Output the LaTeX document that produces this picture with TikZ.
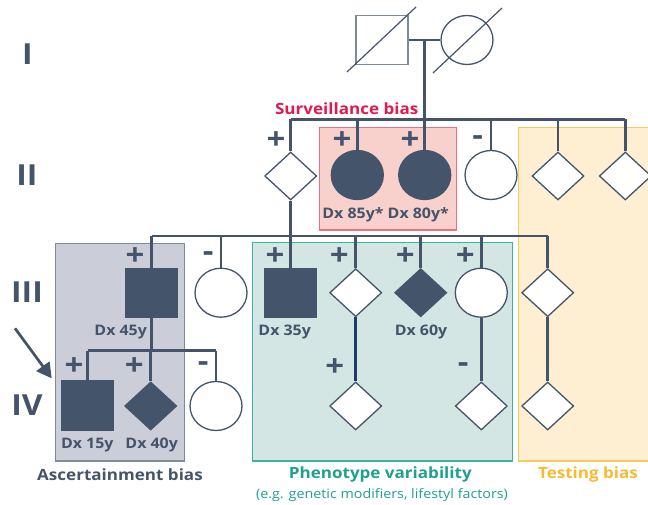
\documentclass[tikz,border=0pt]{standalone}
\usepackage{fontspec}
\setmainfont{Open Sans}[FakeStretch=1.1]
\usetikzlibrary{shapes.geometric,arrows.meta}
\definecolor{ink}{HTML}{44546A}
\definecolor{inkl}{HTML}{7F8A99}
\definecolor{pinkf}{HTML}{F8D0CC}
\definecolor{pinkb}{HTML}{EE6F84}
\definecolor{survc}{HTML}{E1194E}
\definecolor{yelf}{HTML}{FEEFD3}
\definecolor{yelb}{HTML}{FBCB5A}
\definecolor{yelt}{HTML}{F9BA33}
\definecolor{tealf}{HTML}{D3E6E4}
\definecolor{tealb}{HTML}{3DB1A4}
\definecolor{tealt}{HTML}{1FA08F}
\definecolor{grayf}{HTML}{CBCED8}
\definecolor{grayb}{HTML}{7F8A9A}
\definecolor{navy}{HTML}{1F3A6E}
\tikzset{
  x=1pt, y=-1pt,
  male/.style={rectangle, draw=ink, line width=1.3pt, minimum width=52pt, minimum height=49pt, inner sep=0pt, fill=white},
  female/.style={ellipse, draw=ink, line width=1.3pt, minimum width=52pt, minimum height=49pt, inner sep=0pt, fill=white},
  unk/.style={diamond, draw=ink, line width=1.3pt, minimum width=52pt, minimum height=48pt, inner sep=0pt, fill=white},
  aff/.style={fill=ink},
  link/.style={draw=ink, line width=2.6pt},
  pm/.style={text=ink, font=\fontsize{30}{30}\selectfont\bfseries, inner sep=0pt},
  dx/.style={text=ink, font=\fontsize{14.5}{14.5}\selectfont\bfseries, inner sep=0pt},
  gen/.style={text=ink, font=\fontsize{29}{29}\selectfont\bfseries, inner sep=0pt},
  biaslbl/.style={font=\fontsize{15.5}{15.5}\selectfont\bfseries, inner sep=0pt},
  region/.style={line width=1.2pt},
}
\begin{document}
\begin{tikzpicture}
\useasboundingbox (0,0) rectangle (648,505);
% regions
\fill[yelf] (518.7,127.3) rectangle (648,461);
\draw[yelb, region] (648,127.3) -- (518.7,127.3) -- (518.7,461) -- (648,461);
\draw[region, fill=pinkf, draw=pinkb] (319.3,127.3) rectangle (456.3,230);
\draw[region, fill=grayf, draw=grayb] (55.7,243.3) rectangle (184.3,461);
\draw[region, fill=tealf, draw=tealb] (252.7,242.7) rectangle (512.3,461);
% generation labels
\node[gen] (gI) at (27.3,54.5) {I};
\node[gen] (gII) at (27,175) {II};
\node[gen] (gIII) at (27,292) {III};
\node[gen] (gIV) at (27,405) {IV};
% generation I
\node[male, draw=inkl] (I1) at (382,40) {};
\node[female] (I2) at (467,40) {};
\draw[ink, line width=1.2pt] ([shift={(-35,32)}]I1.center) -- ([shift={(34,-33)}]I1.center);
\draw[ink, line width=1.2pt] ([shift={(-34,33)}]I2.center) -- ([shift={(35,-32)}]I2.center);
\coordinate (mI) at (424.7,40);
\coordinate (sII) at (424.7,119.5);
\draw[link] (I1.east) -- (I2.west);
% generation II
\node[unk] (II1) at (290.7,176) {};
\node[female, aff] (II2) at (357.3,175) {};
\node[female, aff] (II3) at (424.7,175) {};
\node[female] (II4) at (491,175) {};
\node[unk] (II5) at (558,176) {};
\node[unk] (II6) at (625.3,176) {};
\draw[link] (mI) -- (sII);
\draw[link] (II1.north |- sII) -- (II6.north |- sII);
\foreach \n in {II1,II2,II3,II4,II5,II6} \draw[link] (\n.north) -- (\n.north |- sII);
\node[pm] (pII1) at (276,140.7) {+};
\node[pm] (pII2) at (342,140.7) {+};
\node[pm] (pII3) at (410,140.7) {+};
\node[pm] (pII4) at (477.7,140.7) {-};
\node[dx] (dII2) at (353,214.3) {Dx 85y*};
\node[dx] (dII3) at (418.3,214.3) {Dx 80y*};
\node[biaslbl, text=survc] (surv) at (346.7,108.3) {Surveillance bias};
% generation III
\coordinate (sIII) at (290.7,236);
\node[male, aff] (III1) at (151.7,293) {};
\node[female] (III2) at (221,292.7) {};
\node[male, aff] (III3) at (290.7,293) {};
\node[unk] (III4) at (355.7,292.7) {};
\node[unk, aff] (III5) at (420.7,292.7) {};
\node[female] (III6) at (481.3,292.7) {};
\node[unk] (III7) at (547.7,292.7) {};
\draw[link] (II1.south) -- (sIII);
\draw[link] (III1.north |- sIII) -- (III7.north |- sIII);
\foreach \n in {III1,III2,III3,III4,III5,III6,III7} \draw[link] (\n.north) -- (\n.north |- sIII);
\node[pm] (pIII1) at (135,256.7) {+};
\node[pm] (pIII2) at (208.3,256.7) {-};
\node[pm] (pIII3) at (275,256.7) {+};
\node[pm] (pIII4) at (339.3,256.7) {+};
\node[pm] (pIII5) at (405.3,256.7) {+};
\node[pm] (pIII6) at (465.3,256.7) {+};
\node[dx] (dIII1) at (120.7,331.7) {Dx 45y};
\node[dx] (dIII3) at (284.7,331.7) {Dx 35y};
\node[dx] (dIII5) at (421,331.7) {Dx 60y};
% generation IV
\coordinate (sIV) at (151.7,350.7);
\node[male, aff] (IV1) at (87.7,405.5) {};
\node[unk, aff] (IV2) at (150.7,406) {};
\node[female] (IV3) at (216,406) {};
\node[unk] (IV4) at (355.7,406) {};
\node[unk] (IV5) at (481.3,406) {};
\node[unk] (IV6) at (547.7,406) {};
\draw[link] (III1.south) -- (sIV);
\draw[link] (IV1.north |- sIV) -- (IV3.north |- sIV);
\foreach \n in {IV1,IV2,IV3} \draw[link] (\n.north) -- (\n.north |- sIV);
\draw[line width=2.6pt, draw=navy] (III4.south) -- (IV4.north);
\draw[link] (III6.south) -- (IV5.north);
\draw[link] (III7.south) -- (IV6.north);
\node[pm] (pIV1) at (74,366.7) {+};
\node[pm] (pIV2) at (134.3,366.7) {+};
\node[pm] (pIV3) at (203.3,366.7) {-};
\node[pm] (pIV4) at (334.7,367.3) {+};
\node[pm] (pIV5) at (463.3,367.3) {-};
\node[dx] (dIV1) at (87.3,445) {Dx 15y};
\node[dx] (dIV2) at (151.7,445) {Dx 40y};
% proband arrow
\coordinate (arS) at (15,328.3);
\coordinate (arE) at (51.7,378.3);
\draw[ink, line width=2.7pt, -{Triangle[length=15pt, width=16pt]}] (arS) -- (arE);
% bias labels
\node[biaslbl, text=ink] (asc) at (120,475) {Ascertainment bias};
\node[biaslbl, text=tealt] (phen) at (380.3,474.3) {Phenotype variability};
\node[text=tealt, font=\fontsize{13}{13}\selectfont, inner sep=0pt] (phensub) at (382,495) {(e.g. genetic modifiers, lifestyl factors)};
\node[biaslbl, text=yelt] (test) at (588,474.3) {Testing bias};
\end{tikzpicture}
\end{document}
